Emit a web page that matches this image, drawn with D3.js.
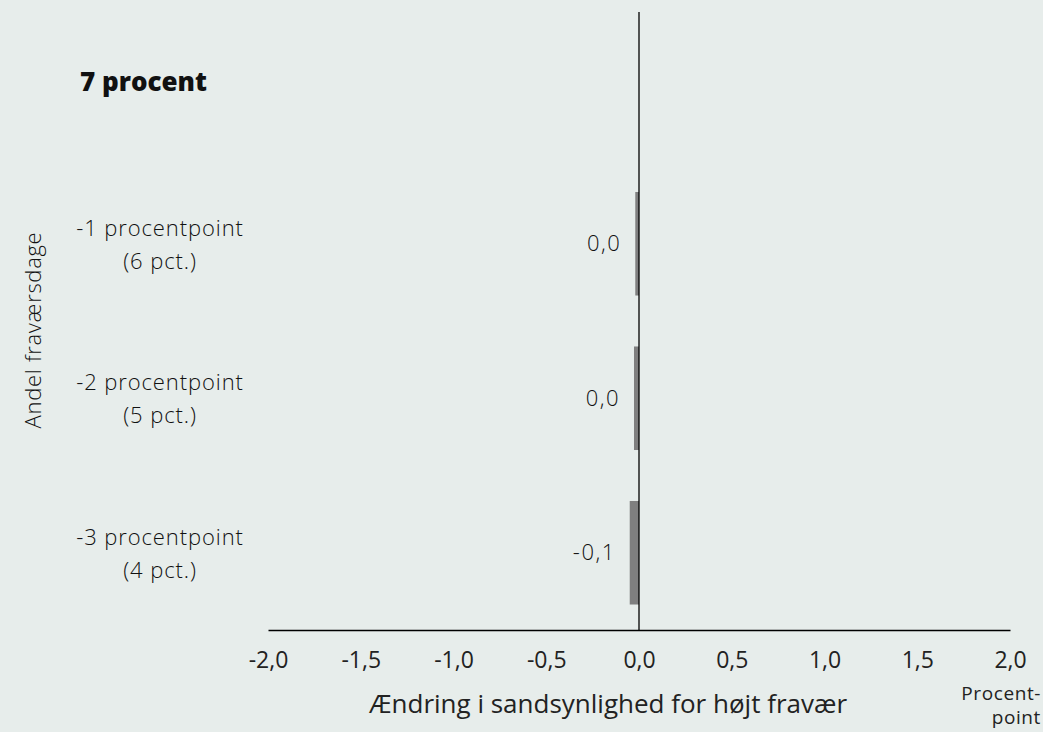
<!DOCTYPE html>
<html>
<head>
<meta charset="utf-8">
<script src="https://cdn.jsdelivr.net/npm/d3@7"></script>
<style>
  body { margin: 0; background: #e7edeb; }
  svg { display: block; font-family: 'Open Sans', sans-serif; }
</style>
</head>
<body>
<script>
var categories = ['7 procent', '-1 procentpoint|(6 pct.)', '-2 procentpoint|(5 pct.)', '-3 procentpoint|(4 pct.)'];
var values = [null, -0.02, -0.027, -0.05];
var valueLabels = ['', '0,0', '0,0', '-0,1'];
var ticks = [-2, -1.5, -1, -0.5, 0, 0.5, 1, 1.5, 2];

var width = 1043,
    height = 732;

var svg = d3.select('body').append('svg')
    .attr('width', width)
    .attr('height', height);

var x = d3.scaleLinear().domain([-2, 2]).range([268, 1010]);
var y = d3.scaleBand().domain(categories).range([12, 630]).paddingInner(0.33).paddingOuter(0.165);

var fmt = function(d) { return d3.format('.1f')(d).replace('.', ',').replace('−', '-'); };

var withBars = categories.filter(function(c, i) { return values[i] !== null; });
function val(d) { return values[categories.indexOf(d)]; }

// bars
svg.append('g').selectAll('rect')
    .data(withBars)
    .enter().append('rect')
    .attr('x', function(d) { return x(Math.min(0, val(d))); })
    .attr('y', function(d) { return y(d); })
    .attr('width', function(d) { return Math.abs(x(val(d)) - x(0)); })
    .attr('height', y.bandwidth())
    .attr('fill', '#7f7f7f');

// value labels
svg.append('g').selectAll('text')
    .data(withBars)
    .enter().append('text')
    .attr('x', function(d) { return x(Math.min(0, val(d))) - 14; })
    .attr('y', function(d) { return y(d) + y.bandwidth() / 2; })
    .attr('dy', '0.35em')
    .attr('text-anchor', 'end')
    .attr('font-size', 22)
    .attr('font-weight', 300)
    .attr('letter-spacing', 1.5)
    .attr('fill', '#111')
    .text(function(d) { return valueLabels[categories.indexOf(d)]; });

// zero line
svg.append('line')
    .attr('x1', x(0)).attr('x2', x(0))
    .attr('y1', 12).attr('y2', 630)
    .attr('stroke', '#000').attr('stroke-width', 1.3);

// x axis
var xAxis = svg.append('g')
    .attr('transform', 'translate(0,630)')
    .call(d3.axisBottom(x).tickValues(ticks).tickFormat(fmt).tickSize(0).tickPadding(22));
xAxis.select('.domain').attr('stroke', '#000').attr('stroke-width', 1.3);
xAxis.selectAll('text').attr('font-size', 23).attr('fill', '#222')
    .attr('font-family', "'Open Sans', sans-serif");

// category labels
var cat = svg.append('g').selectAll('text')
    .data(categories)
    .enter().append('text')
    .attr('fill', '#111');

cat.each(function(d, i) {
    var t = d3.select(this);
    var c = y(d) + y.bandwidth() / 2;
    if (i === 0) {
        t.attr('x', 80).attr('y', c + 2)
         .attr('font-size', 26).attr('font-weight', 800)
         .attr('fill', '#111').text(d);
    } else {
        var parts = d.split('|');
        t.attr('text-anchor', 'middle').attr('font-size', 22).attr('font-weight', 300)
         .attr('letter-spacing', 0.9);
        t.append('tspan').attr('x', 160).attr('y', c - 8).text(parts[0]);
        t.append('tspan').attr('x', 160).attr('y', c + 25).text(parts[1]);
    }
});

// y axis title
svg.append('text')
    .attr('transform', 'translate(41,330) rotate(-90)')
    .attr('text-anchor', 'middle')
    .attr('font-size', 22)
    .attr('font-weight', 300)
    .attr('letter-spacing', 0.7)
    .attr('fill', '#111')
    .text('Andel fraværsdage');

// x axis title
svg.append('text')
    .attr('x', 608).attr('y', 713)
    .attr('text-anchor', 'middle')
    .attr('font-size', 26)
    .attr('fill', '#222')
    .text('Ændring i sandsynlighed for højt fravær');

// unit label
svg.append('text')
    .attr('x', 1041).attr('y', 700)
    .attr('text-anchor', 'end')
    .attr('font-size', 19)
    .attr('letter-spacing', 0.6)
    .attr('fill', '#222')
    .text('Procent-');
svg.append('text')
    .attr('x', 1041).attr('y', 724)
    .attr('text-anchor', 'end')
    .attr('font-size', 19)
    .attr('letter-spacing', 0.6)
    .attr('fill', '#222')
    .text('point');
</script>
</body>
</html>
